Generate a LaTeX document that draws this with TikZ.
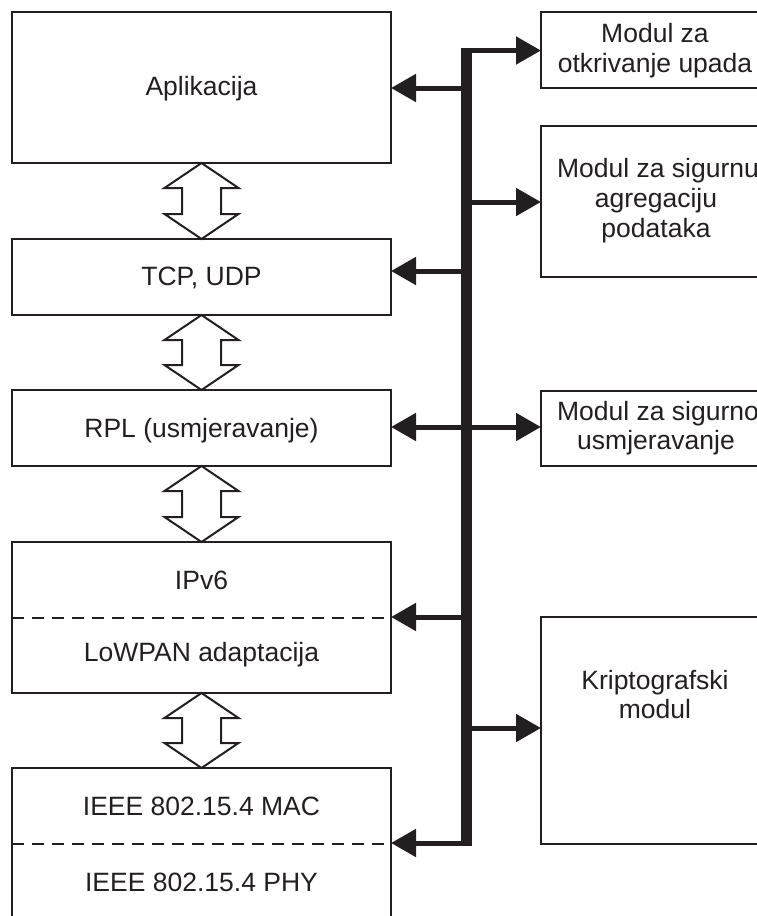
\documentclass[tikz,border=0pt]{standalone}
\usepackage{fontspec}
\setmainfont{Liberation Sans}
\usetikzlibrary{arrows.meta,calc}
\definecolor{ink}{RGB}{35,31,32}
\newcommand\dblarr[2]{%
  \draw[dbl] (#1) -- ($(#1)+(37,25)$) -- ($(#1)+(19.5,25)$) -- ($(#2)+(19.5,-25)$)
    -- ($(#2)+(37,-25)$) -- (#2) -- ($(#2)+(-37,-25)$) -- ($(#2)+(-19.5,-25)$)
    -- ($(#1)+(-19.5,25)$) -- ($(#1)+(-37,25)$) -- cycle;}
\begin{document}
\begin{tikzpicture}[x=1pt,y=-1pt,
  box/.style={draw=ink, line width=2pt, inner sep=0pt, outer sep=0pt, fill=white},
  lbox/.style={box, minimum width=379pt},
  rbox/.style={box, minimum width=229pt},
  txt/.style={inner sep=0pt, anchor=base, text=ink, font=\fontsize{26.5pt}{30pt}\selectfont},
  dbl/.style={draw=ink, line width=2pt, fill=white, line join=miter},
  divider/.style={draw=ink, line width=2pt, dash pattern=on 12pt off 8pt},
  bus/.style={draw=ink, line width=11pt, line cap=butt},
  branch/.style={draw=ink, line width=5pt, -{Triangle[length=25pt,width=27pt]}}
]
\useasboundingbox (0,0) rectangle (757,916);
% left stack
\node[lbox, minimum height=151pt] (app)  at (201.5,87.5) {};
\node[lbox, minimum height=76pt]  (tcp)  at (201.5,277) {};
\node[lbox, minimum height=76pt]  (rpl)  at (201.5,428) {};
\node[lbox, minimum height=151pt] (ipv6) at (201.5,617.5) {};
\node[lbox, minimum height=151pt] (ieee) at (201.5,843.5) {};
\draw[divider] (ipv6.west) -- (ipv6.east);
\draw[divider] (ieee.west) -- (ieee.east);
\node[txt] (tapp)  at (201.5,95)  {Aplikacija};
\node[txt] (ttcp)  at (201.5,285) {TCP, UDP};
\node[txt] (trpl)  at (201.5,437) {RPL (usmjeravanje)};
\node[txt] (tipv6) at (201.5,589) {IPv6};
\node[txt] (tlow)  at (201.5,661) {LoWPAN adaptacija};
\node[txt] (tmac)  at (201.5,815) {IEEE 802.15.4 MAC};
\node[txt] (tphy)  at (201.5,891) {IEEE 802.15.4 PHY};
% double arrows
\dblarr{app.south}{tcp.north}
\dblarr{tcp.south}{rpl.north}
\dblarr{rpl.south}{ipv6.north}
\dblarr{ipv6.south}{ieee.north}
% right modules
\node[rbox, minimum height=76pt]  (m1) at (655.5,50) {};
\node[rbox, minimum height=151pt] (m2) at (655.5,201.5) {};
\node[rbox, minimum height=75pt]  (m3) at (655.5,428.5) {};
\node[rbox, minimum height=227pt] (m4) at (655.5,730.5) {};
\node[txt] (t1a) at (655,42)  {Modul za};
\node[txt] (t1b) at (655,72)  {otkrivanje upada};
\node[txt] (t2a) at (658,177) {Modul za sigurnu};
\node[txt] (t2b) at (656,207) {agregaciju};
\node[txt] (t2c) at (656,237) {podataka};
\node[txt] (t3a) at (658,420) {Modul za sigurno};
\node[txt] (t3b) at (656,449) {usmjeravanje};
\node[txt] (t4a) at (655,689) {Kriptografski};
\node[txt] (t4b) at (655,718) {modul};
% bus
\coordinate (bustop) at (466.5,48);
\coordinate (busbot) at (466.5,846);
\draw[bus] (bustop) -- (busbot);
\coordinate (c1) at (461,50.5);
\coordinate (b1) at (466.5,88);
\coordinate (b2) at (466.5,271);
\coordinate (b3) at (466.5,427);
\coordinate (b4) at (466.5,617);
\coordinate (c5) at (461,843);
\coordinate (r2) at (466.5,202);
\coordinate (r3) at (466.5,427);
\coordinate (r4) at (466.5,728);
\draw[branch] (c1) -- (c1 -| m1.west);
\draw[branch] (b1) -- (b1 -| app.east);
\draw[branch] (b2) -- (b2 -| tcp.east);
\draw[branch] (b3) -- (b3 -| rpl.east);
\draw[branch] (b4) -- (b4 -| ipv6.east);
\draw[branch] (c5) -- (c5 -| ieee.east);
\draw[branch] (r2) -- (r2 -| m2.west);
\draw[branch] (r3) -- (r3 -| m3.west);
\draw[branch] (r4) -- (r4 -| m4.west);
\end{tikzpicture}
\end{document}
